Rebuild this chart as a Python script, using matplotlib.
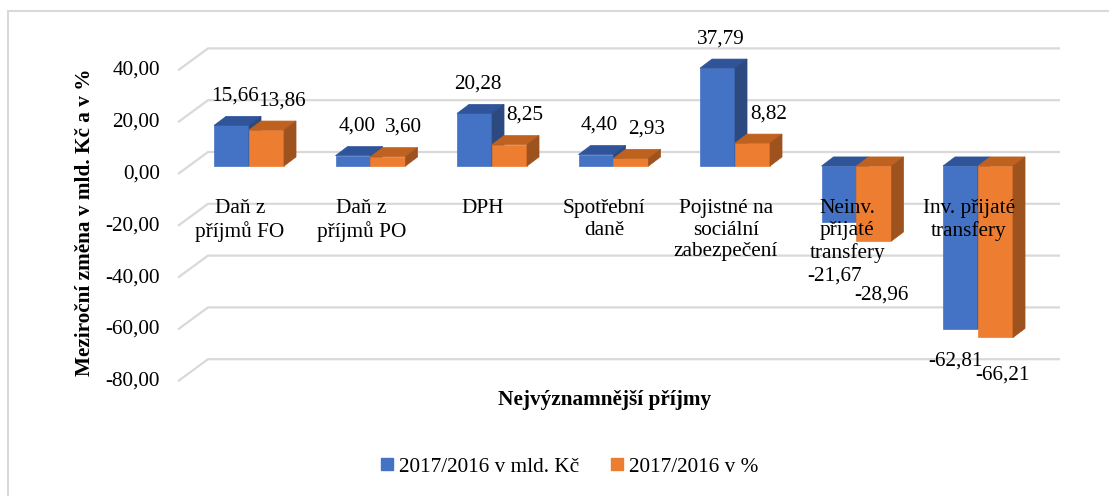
import numpy as np
import matplotlib
matplotlib.use("Agg")
import matplotlib.pyplot as plt
from matplotlib.patches import Polygon, Patch, Rectangle

plt.rcParams['font.family'] = ['Liberation Serif', 'DejaVu Serif']

# Data
kategorie = ["Daň z\npříjmů FO", "Daň z\npříjmů PO", "DPH", "Spotřební\ndaně",
             "Pojistné na\nsociální\nzabezpečení", "Neinv.\npřijaté\ntransfery",
             "Inv. přijaté\ntransfery"]
mld_kc = [15.66, 4.00, 20.28, 4.40, 37.79, -21.67, -62.81]
procenta = [13.86, 3.60, 8.25, 2.93, 8.82, -28.96, -66.21]
serie = ["2017/2016 v mld. Kč", "2017/2016 v %"]
y_ticks = [40, 20, 0, -20, -40, -60, -80]

# barvy: predni stena, horni stena, bocni stena
barvy = [("#4472C4", "#30549A", "#2C4A80"),
         ("#ED7D31", "#C0621F", "#9E521E")]

FS = 15.3
W, H = 1109, 496
fig = plt.figure(figsize=(W / 100, H / 100), dpi=100)
ax = fig.add_axes([0, 0, 1, 1])
ax.axis("off")

# meritko osy (px na jednotku)
px_x, x0 = 121.5, 249
px_y, y0 = 2.59, 166
ax.set_xlim(-x0 / px_x, (W - x0) / px_x)
ax.set_ylim((y0 - H) / px_y, y0 / px_y)

# pseudo 3D hloubka
sirka = 0.288
hl_dx, hl_dy = 0.099, 3.5
front_dy, back_dy = -8 / px_y, 14 / px_y
x_front, x_back, x_end = (178 - x0) / px_x, (208 - x0) / px_x, (1060 - x0) / px_x

grid_c = "#D9D9D9"
for v in y_ticks:
    ax.plot([x_front, x_back, x_end], [v + front_dy, v + back_dy, v + back_dy],
            color=grid_c, lw=1.6, zorder=1, solid_capstyle="butt")
    ax.text(x_front - 0.15, v + front_dy, f"{v:.2f}".replace(".", ","),
            ha="right", va="center", fontsize=FS)

x = np.arange(len(kategorie))
for i in range(len(kategorie)):
    for s, hodnoty in enumerate([mld_kc, procenta]):
        v = hodnoty[i]
        xl = x[i] - sirka + s * sirka
        xr = xl + sirka
        front, top, side = barvy[s]
        ax.bar(xl, v, width=sirka, align="edge", color=front, zorder=3 + s,
               edgecolor=front, linewidth=0.5)
        hi, lo = max(v, 0), min(v, 0)
        ax.add_patch(Polygon([(xl, hi), (xr, hi), (xr + hl_dx, hi + hl_dy),
                              (xl + hl_dx, hi + hl_dy)], closed=True,
                             facecolor=top, edgecolor=top, lw=0.5, zorder=3 + s))
        ax.add_patch(Polygon([(xr, lo), (xr, hi), (xr + hl_dx, hi + hl_dy),
                              (xr + hl_dx, lo + hl_dy)], closed=True,
                             facecolor=side, edgecolor=side, lw=0.5, zorder=3 + s))

        # popisky hodnot
        lx = (xl + xr) / 2 + (0.13 if s == 1 else 0.03)
        if v >= 0:
            ly = v + hl_dy + 7.8
        else:
            ly = v - (21 if v > -40 else 12.5 + 2 * s)
            lx -= 0.07
        ax.text(lx, ly, f"{v:.2f}".replace(".", ","), ha="center", va="center",
                fontsize=FS, zorder=10)

    ax.text(x[i] - 0.075, -12.7, kategorie[i], ha="center", va="top",
            fontsize=FS, linespacing=1.2, zorder=10)

# popisky os
fig.text(85 / W, 1 - 222 / H, "Meziroční změna v mld. Kč a v %", rotation=90,
         ha="center", va="center", fontsize=FS, fontweight="bold")
fig.text(605 / W, 1 - 400 / H, "Nejvýznamnější příjmy", ha="center",
         va="center", fontsize=FS, fontweight="bold")

handles = [Patch(color=barvy[0][0]), Patch(color=barvy[1][0])]
fig.legend(handles, serie, loc="center", bbox_to_anchor=(570 / W, 1 - 467 / H),
           ncol=2, frameon=False, fontsize=FS, handlelength=0.55,
           handleheight=0.55, handletextpad=0.3, columnspacing=1.5)

# ramecek grafu
fig.patches.append(Rectangle((8 / W, -0.1), 1.2, 1.1 - 11 / H, transform=fig.transFigure,
                             fill=False, edgecolor="#D9D9D9", lw=1.5))

fig.savefig("out.png", dpi=100)
